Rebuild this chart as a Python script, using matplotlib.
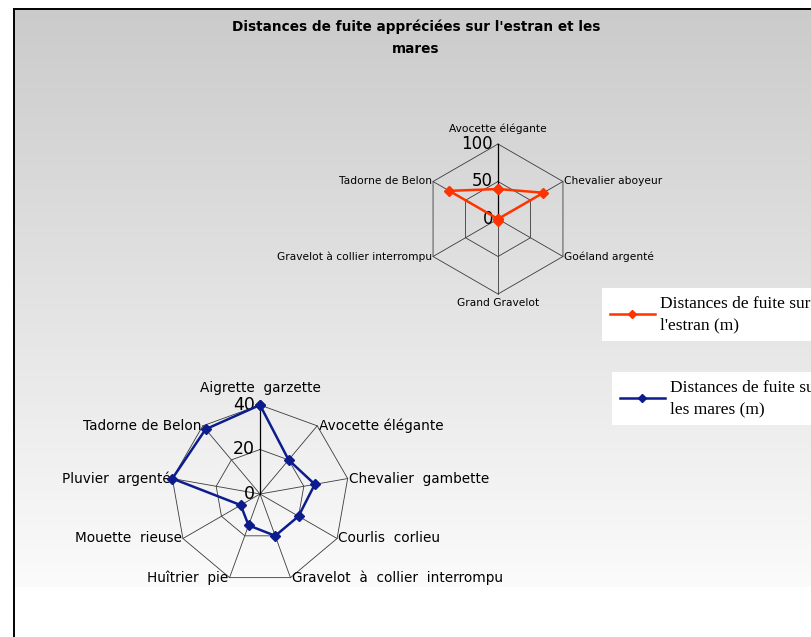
#!/usr/bin/env python3
"""Radar charts: distances de fuite sur l'estran et les mares."""

import numpy as np
import matplotlib
matplotlib.use("Agg")
import matplotlib.pyplot as plt
from matplotlib.colors import LinearSegmentedColormap

# --- data -------------------------------------------------------------
estran_species = ["Avocette élégante", "Chevalier aboyeur", "Goéland argenté",
                  "Grand Gravelot", "Gravelot à collier interrompu",
                  "Tadorne de Belon"]
estran_values = [40, 70, 0, 2, 0, 75]
estran_ticks = [0, 50, 100]
estran_label = "Distances de fuite sur\nl'estran (m)"

mares_species = ["Aigrette  garzette", "Avocette élégante", "Chevalier  gambette",
                 "Courlis  corlieu", "Gravelot  à  collier  interrompu",
                 "Huîtrier  pie", "Mouette  rieuse", "Pluvier  argenté",
                 "Tadorne de Belon"]
mares_values = [40, 20, 25, 20, 20, 15, 10, 40, 38]
mares_ticks = [0, 20, 40]
mares_label = "Distances de fuite sur\nles mares (m)"

title = "Distances de fuite appréciées sur l'estran et les\nmares"

W, H = 811, 637
fig = plt.figure(figsize=(W / 100, H / 100), dpi=100)
fig.patch.set_facecolor("white")

# background: grey gradient with the chart frame on the left and top
bg = fig.add_axes([14 / W, 0, 1 - 14 / W, (H - 9) / H], zorder=-5)
cmap = LinearSegmentedColormap.from_list("bg", ["#cbcbcb", "#fbfbfb"])
grad = np.linspace(0, 1, 256).reshape(-1, 1)
bg.imshow(grad, cmap=cmap, aspect="auto", extent=[0, 1, 587, 9])
bg.set_xlim(0, 1)
bg.set_ylim(H, 9)
bg.set_xticks([])
bg.set_yticks([])
for side in ("right", "bottom"):
    bg.spines[side].set_visible(False)
for side in ("left", "top"):
    bg.spines[side].set_linewidth(1.4)
    bg.spines[side].set_color("black")

fig.text(416 / W, 1 - 38 / H, title, ha="center", va="center",
         family="DejaVu Sans", weight="bold", fontsize=9.8,
         linespacing=1.75)


def radar(cx, cy, radius, species, values, ticks, color, lab_size, tick_size):
    ax = fig.add_axes([(cx - radius) / W, (H - cy - radius) / H,
                       2 * radius / W, 2 * radius / H], projection="polar")
    ax.set_theta_zero_location("N")
    ax.set_theta_direction(-1)
    rmax = ticks[-1]
    ax.set_ylim(0, rmax)
    ax.grid(False)
    ax.spines["polar"].set_visible(False)
    ax.set_xticks([])
    ax.set_yticks([])
    ax.patch.set_alpha(0)

    n = len(species)
    theta = np.arange(n) * 2 * np.pi / n
    closed = np.append(theta, theta[0])

    # polygon grid + spokes
    for r in ticks[1:]:
        ax.plot(closed, [r] * (n + 1), color="#3a3a3a", lw=0.6, clip_on=False)
    for t in theta:
        ax.plot([t, t], [0, rmax], color="#3a3a3a", lw=0.6, clip_on=False)
    ax.plot([0, 0], [0, rmax], color="black", lw=0.9, clip_on=False)

    line, = ax.plot(closed, np.append(values, values[0]), color=color, lw=1.8,
                    marker="D", markersize=5.5, clip_on=False, zorder=5)

    # category labels
    for t, name in zip(theta, species):
        s, c = np.sin(t), np.cos(t)
        if abs(s) < 1e-6:
            ha = "center"
            va = "bottom" if c > 0 else "top"
            off = (0, 7 if c > 0 else -3)
        else:
            ha = "left" if s > 0 else "right"
            va = "center"
            off = (1 if s > 0 else -1, 0)
        ax.annotate(name, (t, rmax), xytext=off, textcoords="offset points",
                    ha=ha, va=va, fontsize=lab_size, family="DejaVu Sans",
                    annotation_clip=False)

    # radial tick labels along the first spoke
    for r in ticks:
        ax.annotate(str(r), (0, r), xytext=(-3.5, 0),
                    textcoords="offset points", ha="right", va="center",
                    fontsize=tick_size, family="DejaVu Sans",
                    annotation_clip=False)
    return line


line_e = radar(498, 219, 75, estran_species, estran_values, estran_ticks,
               "#ff3300", 7.7, 12)
line_m = radar(260, 494, 89, mares_species, mares_values, mares_ticks,
               "#0c1c8c", 9.8, 12.5)

legend_font = {"family": "Liberation Serif", "size": 12.5}
for line, label, x0, y0 in ((line_e, estran_label, 602, 288),
                            (line_m, mares_label, 612, 372)):
    leg = fig.legend(handles=[line], labels=[label], loc="upper left",
                     bbox_to_anchor=(x0 / W, 1 - y0 / H), prop=legend_font,
                     frameon=True, fancybox=False, framealpha=1,
                     facecolor="white", edgecolor="none", handlelength=2.6,
                     handletextpad=0.3, borderpad=0.45, borderaxespad=0,
                     markerscale=0.8)
    leg.get_texts()[0].set_linespacing(1.45)

fig.savefig("out.png", dpi=100)
